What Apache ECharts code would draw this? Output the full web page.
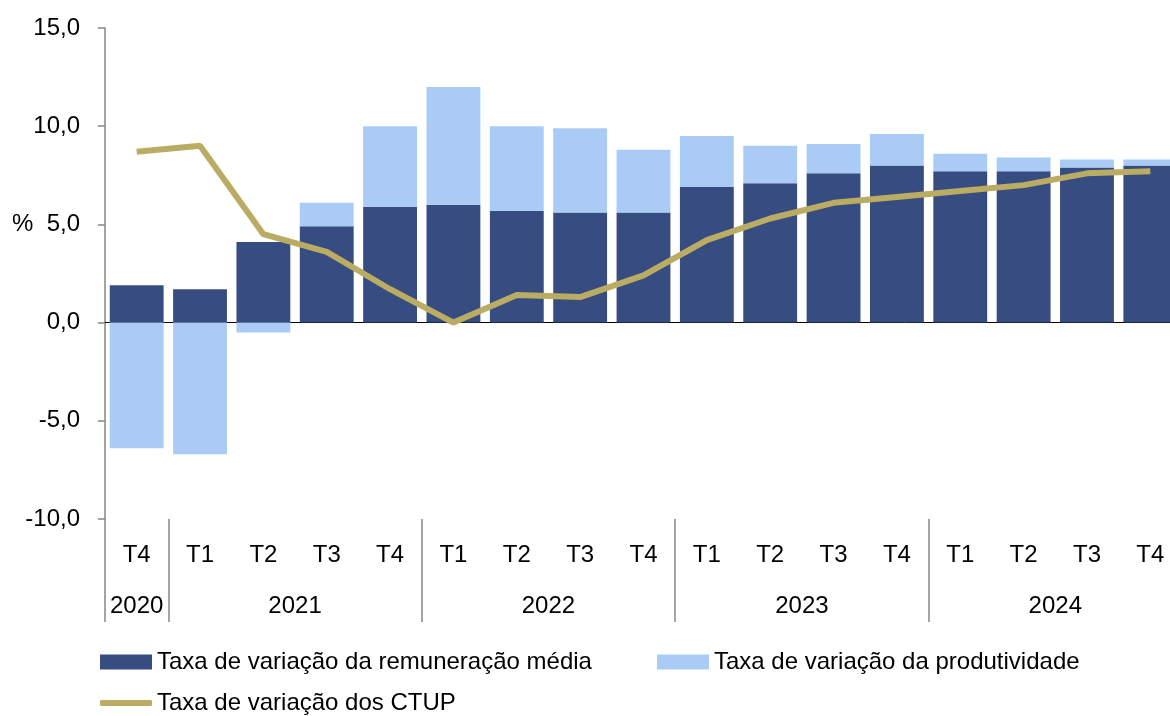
<!DOCTYPE html>
<html>
<head>
<meta charset="utf-8">
<title>CTUP</title>
<script src="https://cdn.jsdelivr.net/npm/echarts@6/dist/echarts.min.js"></script>
<style>
  html, body { margin: 0; padding: 0; background: #fff; }
  #chart { width: 1170px; height: 716px; }
</style>
</head>
<body>
<div id="chart"></div>
<script>
// quarters and the years they belong to
const quarters = ['T4', 'T1', 'T2', 'T3', 'T4', 'T1', 'T2', 'T3', 'T4', 'T1', 'T2', 'T3', 'T4', 'T1', 'T2', 'T3', 'T4'];
const years = ['2020', '2021', '2022', '2023', '2024'];
const quartersPerYear = [1, 4, 4, 4, 4];

// series values (%)
const remuneracao = [1.9, 1.7, 4.1, 4.9, 5.9, 6.0, 5.7, 5.6, 5.6, 6.9, 7.1, 7.6, 8.0, 7.7, 7.7, 7.9, 8.0];
const produtividade = [-6.4, -6.7, -0.5, 1.2, 4.1, 6.0, 4.3, 4.3, 3.2, 2.6, 1.9, 1.5, 1.6, 0.9, 0.7, 0.4, 0.3];
const ctup = [8.7, 9.0, 4.5, 3.6, 1.7, 0.0, 1.4, 1.3, 2.4, 4.2, 5.3, 6.1, 6.4, 6.7, 7.0, 7.6, 7.7];

const names = [
  'Taxa de variação da remuneração média',
  'Taxa de variação da produtividade',
  'Taxa de variação dos CTUP'
];

const font = 'Liberation Sans';
const grey = '#868686';
const lineColor = '#BAAC62';

// year boundaries (tick index) and label centres in quarter units
const yearStarts = [];
const yearCentres = {};
let acc = 0;
quartersPerYear.forEach((n, i) => {
  yearStarts.push(acc);
  yearCentres[(acc + n / 2).toFixed(1)] = years[i];
  acc += n;
});

const legendText = { fontSize: 24, color: '#000', fontFamily: font };

const chart = echarts.init(document.getElementById('chart'));

const option = {
  animation: false,
  textStyle: { fontFamily: font },
  grid: {
    left: 105, top: 28, width: 1077, bottom: 197,
    containLabel: false, outerBoundsMode: 'none'
  },
  graphic: [{
    type: 'text',
    left: 12,
    top: 212,
    style: { text: '%', font: '24px "Liberation Sans"', fill: '#000' }
  }],
  legend: [
    {
      data: [names[0]], left: 100, top: 650, padding: 0, icon: 'rect',
      itemWidth: 52, itemHeight: 15, textStyle: legendText
    },
    {
      data: [names[1]], left: 657, top: 650, padding: 0, icon: 'rect',
      itemWidth: 52, itemHeight: 15, textStyle: legendText
    },
    {
      data: [{ name: names[2], icon: 'roundRect', itemStyle: { color: lineColor } }],
      left: 100, top: 691, padding: 0,
      itemWidth: 52, itemHeight: 6, textStyle: legendText
    }
  ],
  xAxis: [
    {
      type: 'category',
      data: quarters,
      position: 'bottom',
      axisLine: { show: false, onZero: false },
      axisTick: {
        show: true,
        length: 103,
        interval: (index) => yearStarts.indexOf(index) !== -1,
        lineStyle: { color: grey, width: 1.5 }
      },
      axisLabel: { interval: 0, margin: 24, fontSize: 24, color: '#000', fontFamily: font },
      splitLine: { show: false }
    },
    {
      type: 'value',
      min: 0,
      max: quarters.length,
      interval: 0.5,
      position: 'bottom',
      axisLine: { show: false, onZero: false },
      axisTick: { show: false },
      splitLine: { show: false },
      axisLabel: {
        margin: 75, fontSize: 24, color: '#000', fontFamily: font,
        formatter: (v) => yearCentres[v.toFixed(1)] || ''
      }
    },
    {
      type: 'category',
      data: quarters,
      position: 'bottom',
      axisLine: { show: true, onZero: true, lineStyle: { color: '#000', width: 1 } },
      axisTick: { show: false },
      axisLabel: { show: false },
      splitLine: { show: false }
    }
  ],
  yAxis: {
    type: 'value',
    min: -10,
    max: 15,
    interval: 5,
    axisLine: { show: true, lineStyle: { color: grey, width: 1.5 } },
    axisTick: { show: true, length: 7, lineStyle: { color: grey, width: 1.5 } },
    splitLine: { show: false },
    axisLabel: {
      margin: 25, fontSize: 24, color: '#000', fontFamily: font,
      formatter: (v) => v.toFixed(1).replace('.', ',')
    }
  },
  series: [
    {
      name: names[0],
      type: 'bar',
      stack: 'total',
      barCategoryGap: '15%',
      itemStyle: { color: '#374C80' },
      data: remuneracao
    },
    {
      name: names[1],
      type: 'bar',
      stack: 'total',
      barCategoryGap: '15%',
      itemStyle: { color: '#ABCBF7' },
      data: produtividade
    },
    {
      name: names[2],
      type: 'line',
      symbol: 'none',
      lineStyle: { color: lineColor, width: 6 },
      itemStyle: { color: lineColor },
      data: ctup,
      z: 5
    }
  ]
};

chart.setOption(option);
</script>
</body>
</html>
